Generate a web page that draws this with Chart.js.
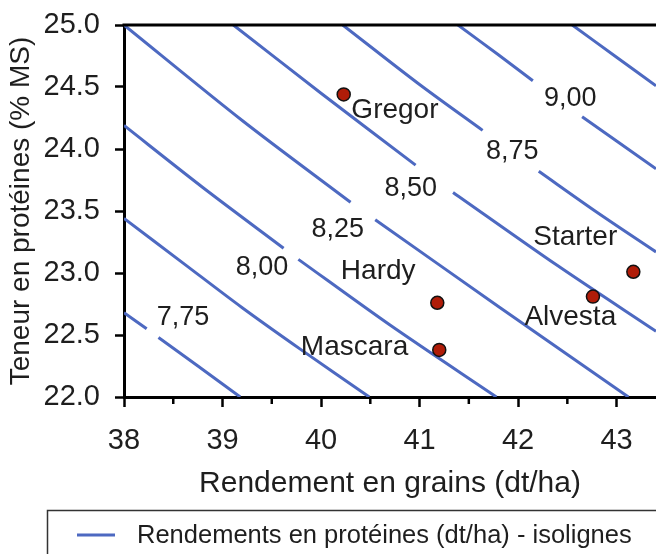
<!DOCTYPE html>
<html>
<head>
<meta charset="utf-8">
<script src="https://cdn.jsdelivr.net/npm/chart.js@4.4.1/dist/chart.umd.min.js"></script>
<style>
  html, body { margin: 0; padding: 0; background: #fff; }
  #wrap { width: 656px; height: 554px; }
</style>
</head>
<body>
<div id="wrap"><canvas id="chart" width="656" height="554"></canvas></div>
<script>
const xTicks = [38, 39, 40, 41, 42, 43];
const xMinorTicks = [38.5, 39.5, 40.5, 41.5, 42.5];
const yTicks = [22.0, 22.5, 23.0, 23.5, 24.0, 24.5, 25.0];

// varieties
const varieties = ['Gregor', 'Hardy', 'Mascara', 'Alvesta', 'Starter'];
const grainYield = [40.23, 41.18, 41.20, 42.76, 43.17];
const proteinContent = [24.44, 22.76, 22.38, 22.81, 23.01];

// isolines, null = the gap left for a label
const isoYield = [
  [38.00, 38.23, 38.29, 38.35, 38.75, 39.18],
  [38.00, 38.60, 39.20, 39.80, 40.49],
  [38.00, 38.80, 39.62, 39.70, 39.77, 40.70, 41.78],
  [38.00, 39.20, 40.30, 40.42, 40.55, 41.80, 43.12],
  [39.11, 40.00, 40.96, 41.15, 41.34, 42.40, 43.40],
  [40.22, 41.00, 41.64, 41.90, 42.21, 42.80, 43.40],
  [41.39, 41.80, 42.15, 42.40, 42.65, 43.40],
  [42.55, 43.00, 43.40]
];
const isoProtein = [
  [22.68, 22.55, null, 22.48, 22.25, 22.00],
  [23.44, 23.08, 22.72, 22.38, 22.00],
  [24.19, 23.69, 23.20, null, 23.11, 22.58, 22.00],
  [25.00, 24.23, 23.57, null, 23.43, 22.73, 22.00],
  [25.00, 24.45, 23.87, null, 23.65, 23.06, 22.53],
  [25.00, 24.52, 24.15, null, 23.82, 23.49, 23.17],
  [25.00, 24.76, 24.55, null, 24.26, 23.84],
  [25.00, 24.74, 24.51]
];
const isoLabels = ['7,75', '8,00', '8,25', '8,50', '8,75', '9,00'];

// where the texts sit (data units)
const isoLabelPos = [[38.60, 22.64], [39.40, 23.04], [40.17, 23.35], [40.91, 23.68], [41.94, 23.98], [42.53, 24.41]];
const namePos = [[40.75, 24.31], [40.58, 23.01], [40.34, 22.40], [42.53, 22.64], [42.58, 23.29]];

const FONT = "'Liberation Sans', Arial, sans-serif";
const TXT = '#1e1e1e';
const BLUE = '#4d69c1';
const isoTitle = 'Rendements en protéines (dt/ha) - isolignes';

const isoDatasets = isoYield.map(function (xs, i) {
  return {
    type: 'line',
    label: isoTitle,
    data: xs.map(function (x, j) { return { x: x, y: isoProtein[i][j] }; }),
    borderColor: BLUE,
    borderWidth: 3,
    pointRadius: 0,
    tension: 0.3,
    spanGaps: false,
    order: 2
  };
});

const decor = {
  id: 'decor',
  afterDraw(chart) {
    const ctx = chart.ctx, a = chart.chartArea;
    const xs = chart.scales.x, ys = chart.scales.y;
    ctx.save();
    // top frame line
    ctx.strokeStyle = '#000';
    ctx.lineWidth = 3;
    ctx.beginPath();
    ctx.moveTo(a.left - 1.5, a.top);
    ctx.lineTo(chart.width, a.top);
    ctx.stroke();
    // minor ticks
    ctx.lineWidth = 2.5;
    xMinorTicks.forEach(function (v) {
      const px = xs.getPixelForValue(v);
      ctx.beginPath();
      ctx.moveTo(px, a.bottom);
      ctx.lineTo(px, a.bottom + 7);
      ctx.stroke();
    });
    // isoline values and variety names
    ctx.fillStyle = TXT;
    ctx.textAlign = 'center';
    ctx.textBaseline = 'middle';
    ctx.font = '27px ' + FONT;
    isoLabels.forEach(function (t, i) {
      ctx.fillText(t, xs.getPixelForValue(isoLabelPos[i][0]), ys.getPixelForValue(isoLabelPos[i][1]));
    });
    ctx.font = '28px ' + FONT;
    varieties.forEach(function (t, i) {
      ctx.fillText(t, xs.getPixelForValue(namePos[i][0]), ys.getPixelForValue(namePos[i][1]));
    });
    // legend
    ctx.strokeStyle = '#333';
    ctx.lineWidth = 1.5;
    ctx.strokeRect(47.5, 510.5, 700, 100);
    ctx.strokeStyle = BLUE;
    ctx.lineWidth = 3;
    ctx.beginPath();
    ctx.moveTo(77, 535);
    ctx.lineTo(115, 535);
    ctx.stroke();
    ctx.textAlign = 'left';
    ctx.font = '25.5px ' + FONT;
    ctx.fillText(isoTitle, 137, 536);
    ctx.restore();
  }
};

new Chart(document.getElementById('chart'), {
  type: 'scatter',
  data: {
    datasets: [{
      label: 'Variétés',
      data: varieties.map(function (v, i) { return { x: grainYield[i], y: proteinContent[i] }; }),
      pointRadius: 6.5,
      pointHoverRadius: 6.5,
      backgroundColor: '#b01c08',
      borderColor: '#111',
      borderWidth: 1.5,
      order: 1
    }].concat(isoDatasets)
  },
  options: {
    responsive: false,
    animation: false,
    layout: { autoPadding: false, padding: { top: 25, left: 0, right: 0, bottom: 0 } },
    plugins: { legend: { display: false }, tooltip: { enabled: false } },
    scales: {
      x: {
        type: 'linear',
        min: 38,
        max: 43.4,
        afterBuildTicks: function (s) { s.ticks = xTicks.map(function (v) { return { value: v }; }); },
        afterFit: function (s) { s.height = 157; s.paddingLeft = 0; s.paddingRight = 0; },
        ticks: { font: { family: FONT, size: 29 }, color: TXT, padding: 17, maxRotation: 0 },
        grid: { drawOnChartArea: false, drawTicks: true, tickLength: 10, tickColor: '#000', tickWidth: 2.5 },
        border: { display: true, color: '#000', width: 3 },
        title: { display: true, text: 'Rendement en grains (dt/ha)', color: TXT, font: { family: FONT, size: 30 }, padding: { top: 0, bottom: 52 } }
      },
      y: {
        type: 'linear',
        min: 22,
        max: 25,
        afterBuildTicks: function (s) { s.ticks = yTicks.map(function (v) { return { value: v }; }); },
        afterFit: function (s) { s.width = 124; s.paddingTop = 0; s.paddingBottom = 0; },
        ticks: { font: { family: FONT, size: 29 }, color: TXT, padding: 15, callback: function (v) { return v.toFixed(1); } },
        grid: { drawOnChartArea: false, drawTicks: true, tickLength: 9, tickColor: '#000', tickWidth: 2.5 },
        border: { display: true, color: '#000', width: 3 },
        title: { display: true, text: 'Teneur en protéines (% MS)', color: TXT, font: { family: FONT, size: 28 }, padding: { top: 4, bottom: 0 } }
      }
    }
  },
  plugins: [decor]
});
</script>
</body>
</html>
